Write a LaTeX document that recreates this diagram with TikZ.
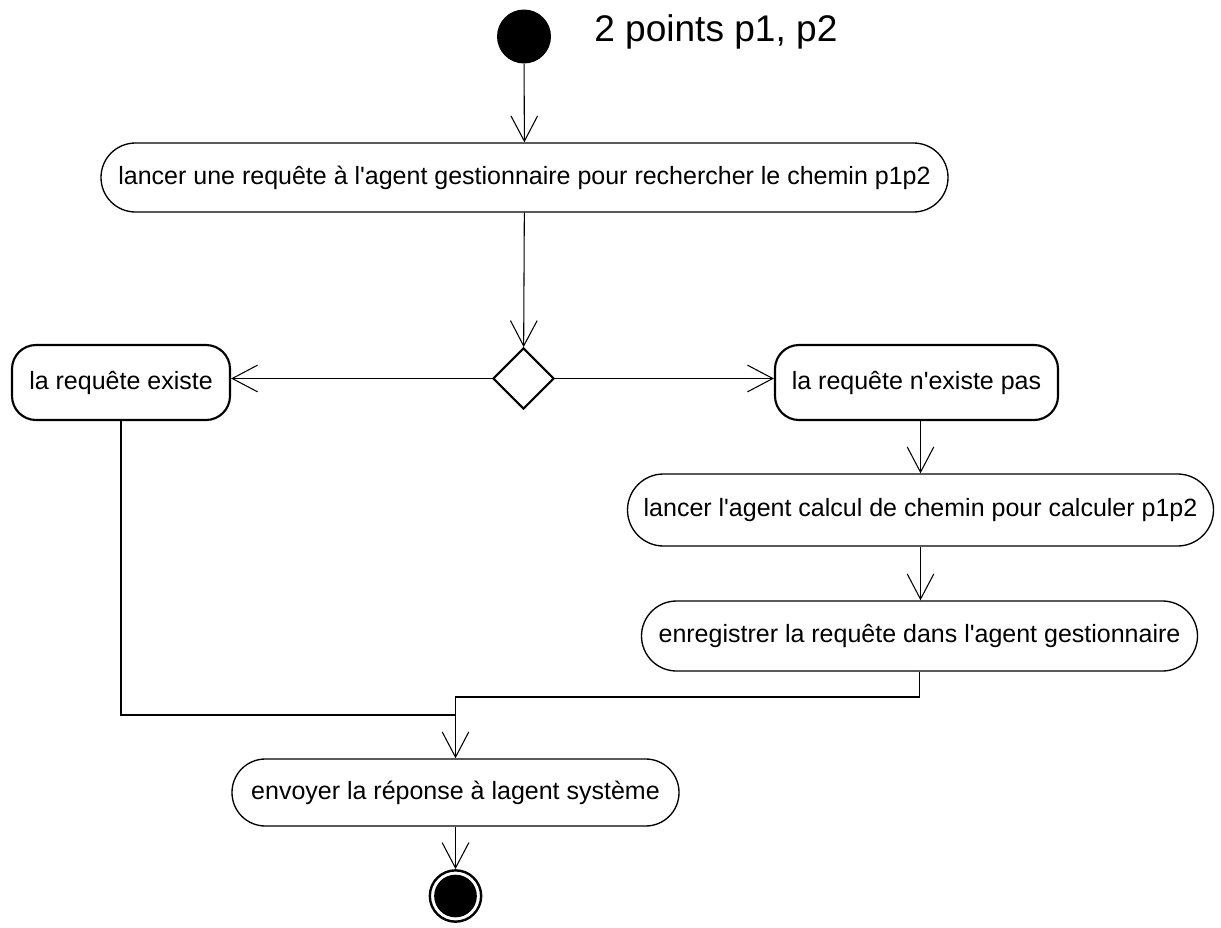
\documentclass[tikz,border=0pt]{standalone}
\usepackage{fontspec}
\setmainfont{Liberation Sans}
\usetikzlibrary{arrows.meta,shapes.geometric}
\begin{document}
\begin{tikzpicture}[x=0.75pt,y=-0.75pt,
  txt/.style={font=\fontsize{18.75}{22}\selectfont},
  act/.style={draw, line width=1pt, rectangle, inner sep=0pt, align=center, txt},
  actb/.style={act, line width=1.6pt},
  conn/.style={draw, line width=0.8pt},
  arr/.style={conn, -{Straight Barb[length=19pt,width=20pt,line width=0.8pt]}}
]
\useasboundingbox (0,0) rectangle (1221,928);
% start
\node[circle, fill=black, minimum size=40.5pt, inner sep=0pt] (start) at (524,36.5) {};
\node[anchor=base west, font=\fontsize{27.8}{32}\selectfont, inner sep=0pt] (lbl) at (594,41) {2 points p1, p2};
% activities
\node[act, minimum width=635.25pt, minimum height=51.75pt, rounded corners=25.8pt] (n1) at (524.5,177.5)
  {lancer une requête à l\textquotesingle agent gestionnaire pour rechercher le chemin p1p2};
\node[draw, diamond, line width=1.6pt, minimum width=45.75pt, minimum height=45.75pt, inner sep=0pt] (dec) at (523.5,378.5) {};
\node[actb, minimum width=163.5pt, minimum height=56.25pt, rounded corners=18pt] (exist) at (121,382.5) {la requête existe};
\node[actb, minimum width=212.25pt, minimum height=56.25pt, rounded corners=18pt] (notexist) at (916.5,382.5) {la requête n\textquotesingle existe pas};
\node[act, minimum width=439.5pt, minimum height=54pt, rounded corners=27pt] (calc) at (920.5,510)
  {lancer l\textquotesingle agent calcul de chemin pour calculer p1p2};
\node[act, minimum width=417pt, minimum height=52.5pt, rounded corners=26.25pt] (enreg) at (919.5,636)
  {enregistrer la requête dans l\textquotesingle agent gestionnaire};
\node[act, minimum width=335.25pt, minimum height=50.25pt, rounded corners=25pt] (envoyer) at (455.5,792.5)
  {envoyer la réponse à lagent système};
% end
\node[circle, draw, line width=1.8pt, minimum size=38.5pt, inner sep=0pt] (end) at (455.5,896) {};
\node[circle, fill=black, minimum size=32pt, inner sep=0pt] (endin) at (end.center) {};
% connectors
\draw[arr] (start) -- (n1);
\draw[arr] (n1) -- (dec);
\draw[arr] (dec.west) -- (dec.west -| exist.east);
\draw[arr] (dec.east) -- (dec.east -| notexist.west);
\draw[arr] (notexist.south -| calc.north) -- (calc.north);
\draw[arr] (calc.south) -- (calc.south |- enreg.north);
\coordinate (m1) at (455.5,715);
\coordinate (m2) at (455.5,697);
\draw[conn] (exist.south) |- (m1);
\draw[arr] (enreg.south) |- (m2) -- (envoyer.north);
\draw[arr] (envoyer) -- (end);
\end{tikzpicture}
\end{document}
